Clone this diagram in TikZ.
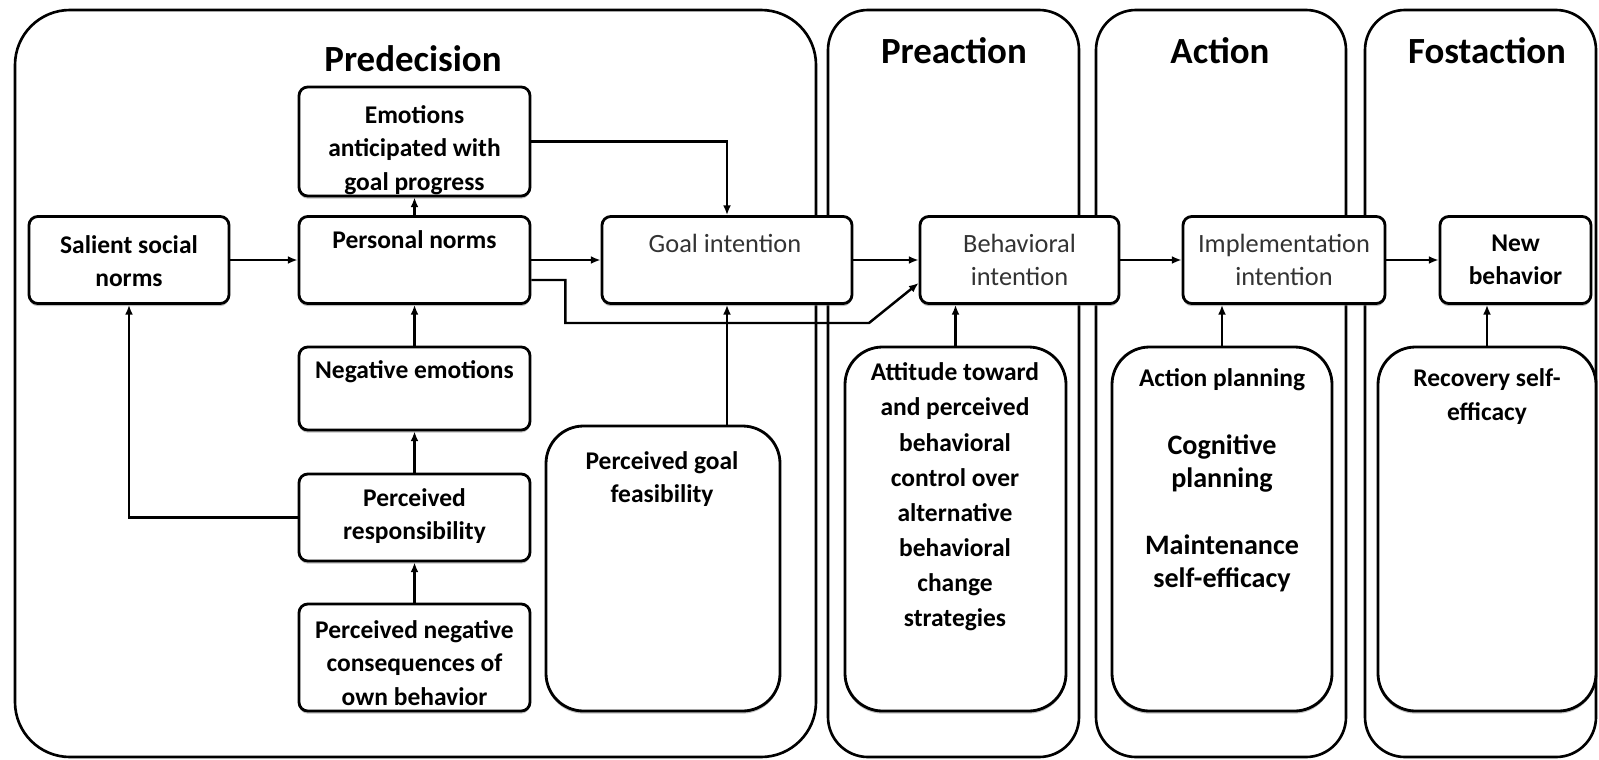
\documentclass[tikz,border=0pt]{standalone}
\usepackage{fontspec}
\setmainfont{Carlito}
\usetikzlibrary{arrows.meta,shadows}

\begin{document}
\begin{tikzpicture}[
  stage/.style={draw, line width=1.5pt, rounded corners=0.8cm},
  box/.style={draw, line width=1.6pt, fill=white, rounded corners=5pt,
    drop shadow={shadow xshift=0pt, shadow yshift=-1.5pt, opacity=0.5}},
  bigbox/.style={box, rounded corners=0.75cm},
  title/.style={font=\fontsize{21}{25}\selectfont\bfseries},
  lbl/.style={align=center, inner sep=0pt, font=\fontsize{14.5}{19}\selectfont\bfseries},
  plain/.style={align=center, inner sep=0pt, text=black!80, font=\fontsize{15}{19}\selectfont},
  arr/.style={line width=1.4pt, -{Latex[length=5.5pt,width=4.5pt]}}
]
\useasboundingbox (0,0) rectangle (31.98,-15.18);

% stages
\draw [stage, rounded corners=1.1cm] (0.30,-0.20) rectangle (16.32,-15.14);
\draw [stage] (16.56,-0.20) rectangle (21.58,-15.14);
\draw [stage] (21.92,-0.20) rectangle (26.92,-15.14);
\draw [stage] (27.30,-0.20) rectangle (31.92,-15.14);

\node [title] (tpre) at (8.26,-1.18) {Predecision};
\node [title] (tpreact) at (19.08,-1.02) {Preaction};
\node [title] (tact) at (24.40,-1.02) {Action};
\node [title] (tpost) at (29.74,-1.02) {Fostaction};

% boxes
\node [box, minimum width=4.00cm, minimum height=1.74cm] (salient) at (2.58,-5.20) {};
\node [box, minimum width=4.62cm, minimum height=2.18cm] (emotions) at (8.29,-2.83) {};
\node [box, minimum width=4.62cm, minimum height=1.74cm] (pnorms) at (8.29,-5.20) {};
\node [box, minimum width=4.62cm, minimum height=1.66cm] (negemo) at (8.29,-7.77) {};
\node [box, minimum width=4.62cm, minimum height=1.74cm] (resp) at (8.29,-10.35) {};
\node [box, minimum width=4.62cm, minimum height=2.14cm] (negcons) at (8.29,-13.15) {};
\node [bigbox, minimum width=4.68cm, minimum height=5.70cm] (feas) at (13.26,-11.37) {};
\node [box, minimum width=5.00cm, minimum height=1.74cm] (goal) at (14.54,-5.20) {};
\node [box, minimum width=3.98cm, minimum height=1.74cm] (behav) at (20.39,-5.20) {};
\node [box, minimum width=4.04cm, minimum height=1.74cm] (impl) at (25.68,-5.20) {};
\node [box, minimum width=3.02cm, minimum height=1.74cm] (newb) at (30.31,-5.20) {};
\node [bigbox, minimum width=4.42cm, minimum height=7.28cm] (attit) at (19.11,-10.58) {};
\node [bigbox, minimum width=4.40cm, minimum height=7.28cm] (plan) at (24.44,-10.58) {};
\node [bigbox, minimum width=4.36cm, minimum height=7.28cm] (recov) at (29.74,-10.58) {};

% texts
\node [lbl] (salientT) at (2.58,-5.22) {Salient social\\norms};
\node [lbl] (emotionsT) at (8.29,-3.00) {Emotions\\anticipated with\\goal progress};
\node [lbl] (pnormsT) at (8.29,-4.80) {Personal norms};
\node [lbl] (negemoT) at (8.29,-7.44) {Negative emotions};
\node [lbl] (respT) at (8.29,-10.32) {Perceived\\responsibility};
\node [lbl] (negconsT) at (8.29,-13.26) {Perceived negative\\consequences of\\own behavior};
\node [lbl] (feasT) at (13.24,-9.58) {Perceived goal\\feasibility};
\node [plain] (goalT) at (14.50,-4.86) {Goal intention};
\node [plain] (behavT) at (20.39,-5.20) {Behavioral\\intention};
\node [plain] (implT) at (25.68,-5.20) {Implementation\\intention};
\node [lbl] (newbT) at (30.31,-5.20) {New\\behavior};
\node [lbl, font=\fontsize{14.5}{20}\selectfont\bfseries] (attitT) at (19.10,-9.94) {Attitude toward\\and perceived\\behavioral\\control over\\alternative\\behavioral\\change\\strategies};
\node [lbl] (planT) at (24.44,-7.60) {Action planning};
\node [lbl, font=\fontsize{16}{19}\selectfont\bfseries] (cogT) at (24.44,-9.27) {Cognitive\\planning};
\node [lbl, font=\fontsize{16}{19}\selectfont\bfseries] (mainT) at (24.44,-11.27) {Maintenance\\self-efficacy};
\node [lbl] (recovT) at (29.74,-7.93) {Recovery self-\\efficacy};

\coordinate (bend) at (17.38,-6.46);

\begin{scope}[arr]
\draw (salient) -- (pnorms);
\draw (pnorms) -- (goal);
\draw (goal) -- (behav);
\draw (behav) -- (impl);
\draw (impl) -- (newb);
\draw (pnorms.north) -- (emotions.south);
\draw (negemo.north) -- (pnorms.south);
\draw (resp.north) -- (negemo.south);
\draw (negcons.north) -- (resp.south);
\draw (resp.west) -| (salient.south);
\draw (emotions.east) -| (goal.north);
\draw (feas.north -| goal.south) -- (goal.south);
\draw ([yshift=-0.40cm]pnorms.east) -- ++(0.68,0) |- (bend) -- ([yshift=-0.46cm]behav.west);
\draw (attit.north) -- (attit.north |- behav.south);
\draw (plan.north) -- (plan.north |- impl.south);
\draw (recov.north) -- (recov.north |- newb.south);
\end{scope}

\end{tikzpicture}
\end{document}
